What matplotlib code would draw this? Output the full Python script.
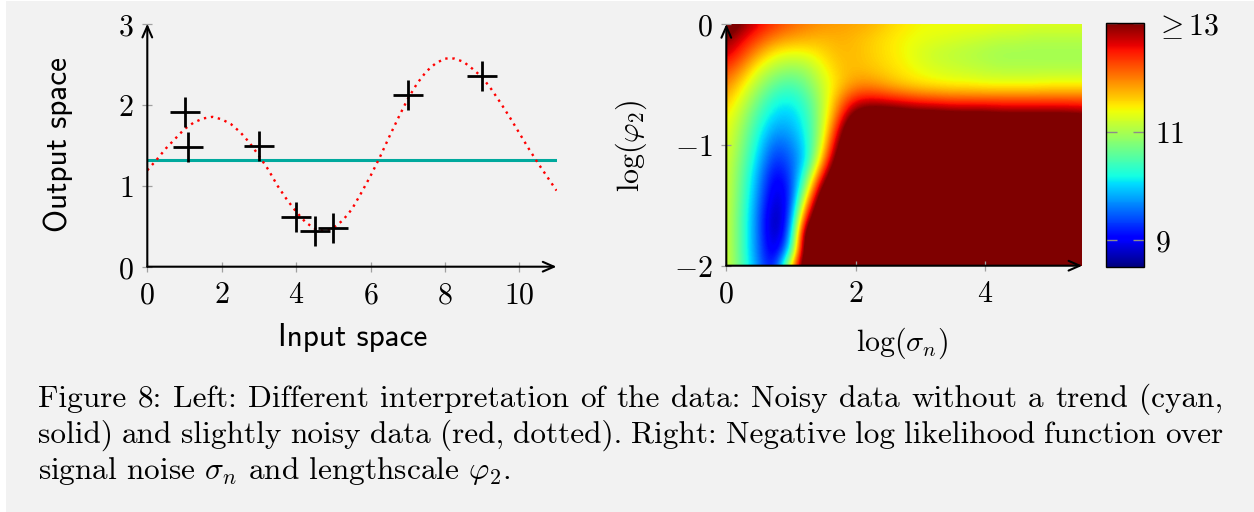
import matplotlib
matplotlib.use("Agg")
import matplotlib.pyplot as plt
import numpy as np
from matplotlib.patches import Rectangle

plt.rcParams["mathtext.fontset"] = "cm"

# ---- left panel data ----
obs_x = [1.0, 1.1, 3.0, 4.0, 4.5, 5.0, 7.0, 9.0]
obs_y = [1.91, 1.48, 1.49, 0.61, 0.44, 0.48, 2.12, 2.35]
flat_level = 1.32  # noisy data without a trend

fit_x = [0.0, 0.25, 0.5, 0.75, 1.0, 1.25, 1.5, 1.75, 2.0, 2.25, 2.5, 2.75,
         3.0, 3.25, 3.5, 3.75, 4.0, 4.25, 4.5, 4.75, 5.0, 5.25, 5.5, 5.75,
         6.0, 6.25, 6.5, 6.75, 7.0, 7.25, 7.5, 7.75, 8.0, 8.25, 8.5, 8.75,
         9.0, 9.25, 9.5, 9.75, 10.0, 10.25, 10.5, 10.75, 11.0]
fit_y = [1.19, 1.32, 1.46, 1.58, 1.70, 1.78, 1.83, 1.85, 1.82, 1.76, 1.66, 1.53,
         1.37, 1.20, 1.00, 0.83, 0.68, 0.55, 0.47, 0.44, 0.48, 0.57, 0.71, 0.91,
         1.12, 1.35, 1.60, 1.84, 2.07, 2.26, 2.41, 2.51, 2.57, 2.57, 2.53, 2.44,
         2.34, 2.19, 2.02, 1.84, 1.65, 1.46, 1.28, 1.11, 0.94]

# ---- right panel data: negative log likelihood, rows log(phi2)=0 .. -2, cols log(sigma_n)=0 .. 5.5 ----
nll = [
    [13.4, 13.0, 12.6, 12.35, 12.15, 12.0, 11.9, 11.85, 11.8, 11.75, 11.6, 11.5, 11.4, 11.4, 11.4, 11.4, 11.4, 11.35, 11.35, 11.3, 11.3, 11.3, 11.3],
    [13.0, 12.6, 12.25, 11.95, 11.8, 11.75, 11.7, 11.75, 11.7, 11.6, 11.5, 11.4, 11.35, 11.3, 11.25, 11.2, 11.15, 11.1, 11.1, 11.05, 11.05, 11.05, 11.05],
    [12.7, 12.3, 11.8, 11.4, 11.3, 11.35, 11.55, 11.7, 11.7, 11.6, 11.5, 11.4, 11.25, 11.15, 11.1, 11.05, 11.0, 10.95, 10.95, 10.95, 10.95, 10.95, 10.95],
    [12.3, 11.9, 11.3, 11.0, 10.85, 10.95, 11.35, 11.65, 11.7, 11.65, 11.55, 11.45, 11.35, 11.25, 11.2, 11.15, 11.1, 11.05, 11.05, 11.05, 11.05, 11.05, 11.05],
    [12.0, 11.5, 11.0, 10.6, 10.45, 10.7, 11.2, 11.6, 11.9, 11.9, 11.75, 11.6, 11.5, 11.45, 11.4, 11.4, 11.35, 11.35, 11.35, 11.35, 11.4, 11.4, 11.4],
    [11.7, 11.25, 10.7, 10.25, 10.15, 10.45, 11.1, 11.9, 12.5, 12.6, 12.5, 12.4, 12.3, 12.25, 12.2, 12.2, 12.2, 12.2, 12.2, 12.2, 12.2, 12.2, 12.2],
    [11.5, 11.05, 10.45, 10.0, 9.95, 10.3, 11.1, 12.2, 13.3, 13.5, 13.5, 13.4, 13.3, 13.3, 13.2, 13.2, 13.2, 13.1, 13.1, 13.1, 13.1, 13.1, 13.0],
    [11.4, 10.9, 10.25, 9.75, 9.8, 10.2, 11.15, 12.7, 14.0, 14.0, 14.0, 14.0, 14.0, 14.0, 14.0, 14.0, 14.0, 14.0, 14.0, 14.0, 14.0, 14.0, 14.0],
    [11.35, 10.8, 10.1, 9.45, 9.6, 10.1, 11.35, 13.2, 14.0, 14.0, 14.0, 14.0, 14.0, 14.0, 14.0, 14.0, 14.0, 14.0, 14.0, 14.0, 14.0, 14.0, 14.0],
    [11.3, 10.7, 9.95, 9.2, 9.45, 10.05, 11.8, 13.6, 14.0, 14.0, 14.0, 14.0, 14.0, 14.0, 14.0, 14.0, 14.0, 14.0, 14.0, 14.0, 14.0, 14.0, 14.0],
    [11.3, 10.6, 9.8, 8.95, 9.3, 10.5, 12.6, 14.0, 14.0, 14.0, 14.0, 14.0, 14.0, 14.0, 14.0, 14.0, 14.0, 14.0, 14.0, 14.0, 14.0, 14.0, 14.0],
    [11.3, 10.55, 9.7, 8.8, 9.15, 11.1, 13.5, 14.0, 14.0, 14.0, 14.0, 14.0, 14.0, 14.0, 14.0, 14.0, 14.0, 14.0, 14.0, 14.0, 14.0, 14.0, 14.0],
    [11.3, 10.5, 9.6, 8.65, 9.15, 12.0, 14.0, 14.0, 14.0, 14.0, 14.0, 14.0, 14.0, 14.0, 14.0, 14.0, 14.0, 14.0, 14.0, 14.0, 14.0, 14.0, 14.0],
    [11.3, 10.45, 9.55, 8.5, 9.3, 13.0, 14.0, 14.0, 14.0, 14.0, 14.0, 14.0, 14.0, 14.0, 14.0, 14.0, 14.0, 14.0, 14.0, 14.0, 14.0, 14.0, 14.0],
    [11.3, 10.45, 9.55, 8.55, 9.5, 14.0, 14.0, 14.0, 14.0, 14.0, 14.0, 14.0, 14.0, 14.0, 14.0, 14.0, 14.0, 14.0, 14.0, 14.0, 14.0, 14.0, 14.0],
    [11.3, 10.45, 9.55, 8.7, 10.0, 14.0, 14.0, 14.0, 14.0, 14.0, 14.0, 14.0, 14.0, 14.0, 14.0, 14.0, 14.0, 14.0, 14.0, 14.0, 14.0, 14.0, 14.0],
    [11.3, 10.5, 9.65, 8.85, 11.5, 14.0, 14.0, 14.0, 14.0, 14.0, 14.0, 14.0, 14.0, 14.0, 14.0, 14.0, 14.0, 14.0, 14.0, 14.0, 14.0, 14.0, 14.0],
]
sigma_range = (0.0, 5.5)
phi_range = (-2.0, 0.0)
cbar_ticks = [9, 11, 13]
cbar_labels = [r"$9$", r"$11$", r"$\geq 13$"]

caption = [
    "Figure 8: Left: Different interpretation of the data: Noisy data without a trend (cyan,",
    "solid) and slightly noisy data (red, dotted). Right: Negative log likelihood function over",
    r"signal noise $\sigma_n$ and lengthscale $\varphi_2$.",
]

W, H = 1254, 512
BG = "#f2f2f2"
TICK_GREY = "#a0a0a0"
FS = 21.5
CAP_FS = 22.5


def fx(px):
    return px / W


def fy(py):
    return 1 - py / H


fig = plt.figure(figsize=(W / 100, H / 100), dpi=100, facecolor="white")
fig.patches.append(Rectangle((fx(6), 0), 1 - fx(6), fy(1), transform=fig.transFigure,
                             facecolor=BG, edgecolor="none", zorder=-10))


def axis_arrows(ax, x0, x1, y0, y1):
    style = dict(arrowstyle="->,head_length=0.8,head_width=0.35", lw=1.5, color="black",
                 shrinkA=0, shrinkB=0, mutation_scale=10)
    ax.annotate("", xy=(x1, y0), xytext=(x0, y0), arrowprops=style, annotation_clip=False)
    ax.annotate("", xy=(x0, y1), xytext=(x0, y0), arrowprops=style, annotation_clip=False)
    for s in ax.spines.values():
        s.set_visible(False)
    ax.set_facecolor("none")
    ax.tick_params(direction="inout", length=7.5, width=0.9, color=TICK_GREY,
                   labelsize=FS, pad=6)


# ---- left: data interpretations ----
ax1 = fig.add_axes([fx(147.3), fy(266.7), (556.5 - 147.3) / W, (266.7 - 23.7) / H])
ax1.plot([0, 11], [flat_level, flat_level], color="#00a99d", lw=2.2, solid_capstyle="butt")
ax1.plot(fit_x, fit_y, color="red", lw=1.7, linestyle=(0, (1, 2)))
ax1.plot(obs_x, obs_y, linestyle="none", marker="+", markersize=22, mew=2.0, color="black")
ax1.set_xlim(0, 11)
ax1.set_ylim(0, 3)
ax1.set_xticks([0, 2, 4, 6, 8, 10])
ax1.set_xticklabels([f"${v}$" for v in [0, 2, 4, 6, 8, 10]])
ax1.set_yticks([0, 1, 2, 3])
ax1.set_yticklabels([f"${v}$" for v in [0, 1, 2, 3]])
axis_arrows(ax1, 0, 11, 0, 3)

fig.text(fx(58), fy(145), "Output space", family="cmss10", size=22.5, rotation=90,
         ha="center", va="center")
fig.text(fx(352.5), fy(338), "Input space", family="cmss10", size=22.5,
         ha="center", va="center")

# ---- right: likelihood surface ----
ax2 = fig.add_axes([fx(726.3), fy(265.7), (1082.3 - 726.3) / W, (265.7 - 24) / H])
grid = np.array(nll)
dx = (sigma_range[1] - sigma_range[0]) / (grid.shape[1] - 1) / 2
dy = (phi_range[1] - phi_range[0]) / (grid.shape[0] - 1) / 2
im = ax2.imshow(grid, cmap="jet", vmin=8.5, vmax=13, aspect="auto", interpolation="bicubic",
                extent=[sigma_range[0] - dx, sigma_range[1] + dx, phi_range[0] - dy, phi_range[1] + dy],
                origin="upper", zorder=0)
ax2.set_xlim(*sigma_range)
ax2.set_ylim(*phi_range)
ax2.set_xticks([0, 2, 4])
ax2.set_xticklabels([r"$0$", r"$2$", r"$4$"])
ax2.set_yticks([-2, -1, 0])
ax2.set_yticklabels([r"$-2$", r"$-1$", r"$0$"])
axis_arrows(ax2, 0, 5.5, -2, 0)

fig.text(fx(631), fy(146), r"$\log(\varphi_2)$", size=FS, rotation=90, ha="center", va="center")
fig.text(fx(902), fy(343), r"$\log(\sigma_n)$", size=FS, ha="center", va="center")

cax = fig.add_axes([fx(1106.3), fy(267.3), 38 / W, (267.3 - 23.3) / H])
cb = fig.colorbar(im, cax=cax, ticks=cbar_ticks)
cb.outline.set_linewidth(1.0)
cax.set_yticklabels(cbar_labels)
cax.tick_params(direction="in", left=True, right=True, length=8, width=1.0,
                color="#8c8c8c", labelsize=FS, pad=8)

# ---- caption (first two lines justified like the TeX paragraph) ----
renderer = fig.canvas.get_renderer()
left_px, right_px = 38, 1223
for i, line in enumerate(caption):
    base = fy(406.7 + 36.2 * i)
    if i == len(caption) - 1:
        fig.text(fx(left_px), base, line, family="cmr10", size=CAP_FS, ha="left", va="baseline")
        continue
    words = line.split(" ")
    texts = [fig.text(0, base, w, family="cmr10", size=CAP_FS, ha="left", va="baseline")
             for w in words]
    widths = [t.get_window_extent(renderer).width for t in texts]
    gap = (right_px - left_px - sum(widths)) / (len(words) - 1)
    pos = left_px
    for t, w in zip(texts, widths):
        t.set_x(fx(pos))
        pos += w + gap

fig.savefig("out.png", dpi=100, facecolor=fig.get_facecolor())
